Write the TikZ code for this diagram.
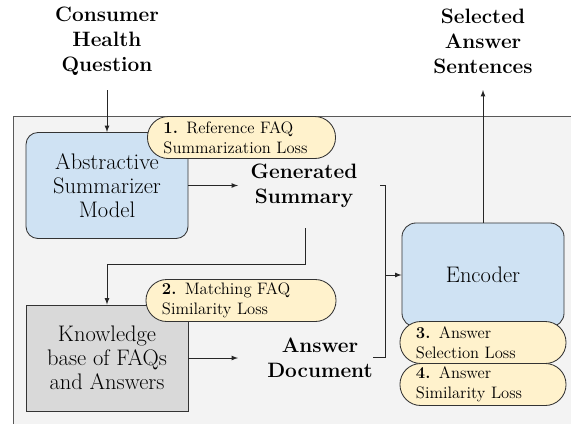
\documentclass[tikz,border=0pt]{standalone}
\usepackage{fontspec}
\definecolor{panelgray}{HTML}{F3F3F3}
\definecolor{modelblue}{HTML}{CFE2F3}
\definecolor{kbgray}{HTML}{D9D9D9}
\definecolor{lossyellow}{HTML}{FFF2CC}

\begin{document}
\begin{tikzpicture}[x=0.025cm,y=-0.025cm,
    flow/.style={->,>=latex,line width=0.6pt,draw=black!85},
    title/.style={font=\bfseries\fontsize{14.8}{17.8}\selectfont,align=center},
    block/.style={draw=black!80,line width=0.6pt,align=center,minimum width=4.05cm,minimum height=2.65cm,font=\fontsize{16}{17}\selectfont},
    loss/.style={draw=black!80,line width=0.6pt,fill=lossyellow,rounded corners=0.52cm,minimum height=1.05cm,inner xsep=0.4cm,inner ysep=0pt,align=left,font=\fontsize{11.8}{14.4}\selectfont}]

    \useasboundingbox (0,0) rectangle (571,423);
    \draw[fill=panelgray,draw=black!65,line width=0.6pt] (13,116) rectangle (590,440);

    \node[title] (chq) at (107,41) {Consumer\\Health\\Question};
    \node[title] (sel) at (483,41) {Selected\\Answer\\Sentences};
    \node[title] (gen) at (304,186) {Generated\\Summary};
    \node[title] (ans) at (320,358) {Answer\\Document};

    \node[block,fill=modelblue,rounded corners=0.3cm] (abs) at (107,185.5) {Abstractive\\Summarizer\\Model};
    \node[block,fill=kbgray] (kb) at (107,358) {Knowledge\\base of FAQs\\and Answers};
    \node[block,fill=modelblue,rounded corners=0.35cm,minimum height=2.6cm] (enc) at (483,275) {Encoder};

    \node[loss,text width=3.9cm] (l1) at (241.5,137.5) {\textbf{1.} Reference FAQ\\Summarization Loss};
    \node[loss,text width=3.95cm] (l2) at (241,300.5) {\textbf{2.} Matching FAQ\\Similarity Loss};
    \node[loss,text width=3.35cm] (l3) at (483,342.5) {\textbf{3.} Answer\\Selection Loss};
    \node[loss,text width=3.35cm] (l4) at (483,384.5) {\textbf{4.} Answer\\Similarity Loss};

    \coordinate (qout) at (107,90);
    \coordinate (sin) at (483,90);
    \coordinate (gin) at (238,185.5);
    \coordinate (ain) at (238,358);
    \coordinate (gout) at (380,185.5);
    \coordinate (gdown) at (305,228);
    \coordinate (aout) at (373,357);
    \coordinate (jn) at (385,275);
    \coordinate (kbup) at (107,264);

    \path[flow] (qout) -- (abs.north);
    \path[flow] (abs.east) -- (gin);
    \path[flow] (kb.east) -- (ain);
    \path[flow] (gdown) |- (kbup) -- (kb.north);
    \path[flow] (gout) -| (jn) -- (enc.west);
    \path[draw=black!85,line width=0.6pt] (aout) -| (jn);
    \path[flow] (enc.north) -- (sin);

  \end{tikzpicture}
\end{document}
